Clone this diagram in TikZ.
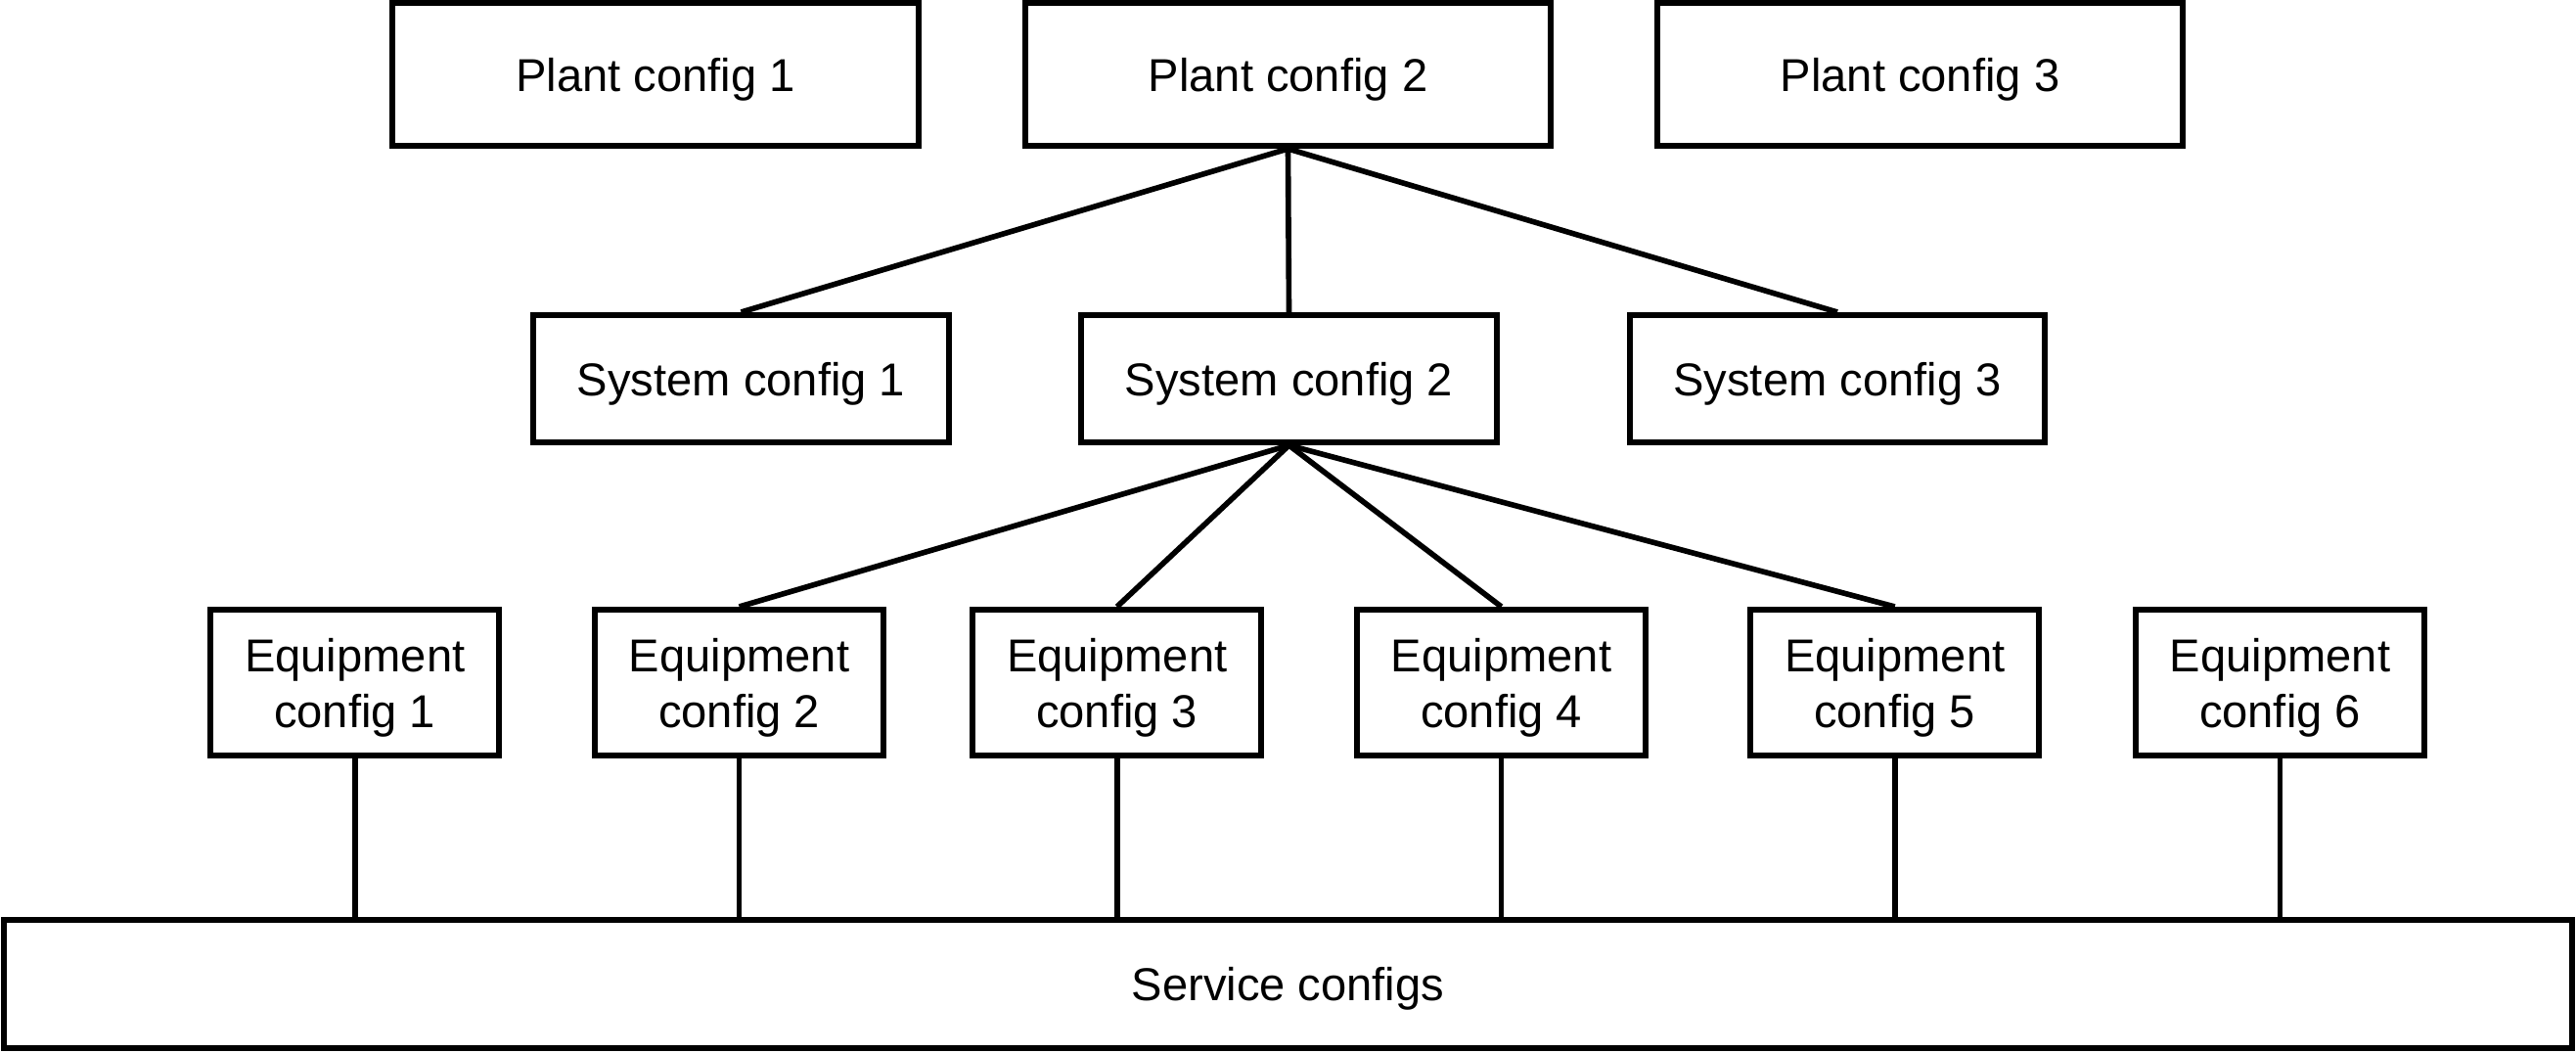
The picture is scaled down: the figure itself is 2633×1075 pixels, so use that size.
\documentclass[tikz,border=0pt]{standalone}
\usepackage{fontspec}
\setmainfont{Liberation Sans}
\newcommand\lbl[1]{\raisebox{-1.6pt}[\height][\depth]{\begin{tabular}{@{}c@{}}#1\end{tabular}}}
\begin{document}
\begin{tikzpicture}[x=0.01cm,y=-0.01cm,
  box/.style={draw=black,line width=1.7pt,fill=white,inner sep=0pt,align=center,
    font=\fontsize{13.4}{16.2}\selectfont},
  plantbox/.style={box,minimum width=5.37cm,minimum height=1.46cm},
  sysbox/.style={box,minimum width=4.24cm,minimum height=1.30cm},
  eqbox/.style={box,minimum width=2.95cm,minimum height=1.49cm},
  link/.style={line width=1.6pt,black}]
\useasboundingbox (0,0) rectangle (2633,1075);
\node[plantbox] (P1) at (670,76) {\lbl{Plant config 1}};
\node[plantbox] (P2) at (1316.5,76) {\lbl{Plant config 2}};
\node[plantbox] (P3) at (1962.5,76) {\lbl{Plant config 3}};
\node[sysbox] (S1) at (757.5,387) {\lbl{System config 1}};
\node[sysbox] (S2) at (1317.5,387) {\lbl{System config 2}};
\node[sysbox] (S3) at (1878,387) {\lbl{System config 3}};
\node[eqbox] (E1) at (362.7,697.5) {\lbl{Equipment\\config 1}};
\node[eqbox] (E2) at (755.6,697.5) {\lbl{Equipment\\config 2}};
\node[eqbox] (E3) at (1141.7,697.5) {\lbl{Equipment\\config 3}};
\node[eqbox] (E4) at (1534.6,697.5) {\lbl{Equipment\\config 4}};
\node[eqbox] (E5) at (1936.7,697.5) {\lbl{Equipment\\config 5}};
\node[eqbox] (E6) at (2330.5,697.5) {\lbl{Equipment\\config 6}};
\node[box,minimum width=26.23cm,minimum height=1.31cm] (SV) at (1316.5,1005.5) {\lbl{Service configs}};
\draw[link] (P2.south) -- (S1.north);
\draw[link] (P2.south) -- (S2.north);
\draw[link] (P2.south) -- (S3.north);
\draw[link] (S2.south) -- (E2.north);
\draw[link] (S2.south) -- (E3.north);
\draw[link] (S2.south) -- (E4.north);
\draw[link] (S2.south) -- (E5.north);
\foreach \e in {E1,E2,E3,E4,E5,E6}
  \draw[link] (\e.south) -- (\e.south |- SV.north);
\end{tikzpicture}
\end{document}
